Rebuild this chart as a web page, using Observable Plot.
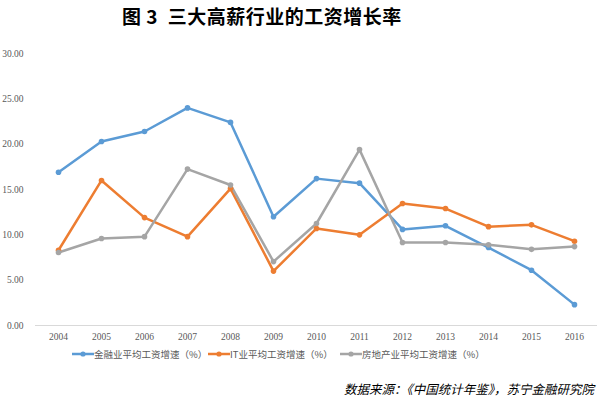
<!DOCTYPE html>
<html><head><meta charset="utf-8">
<script src="https://cdn.jsdelivr.net/npm/d3@7"></script>
<script src="https://cdn.jsdelivr.net/npm/@observablehq/plot@0.6"></script>
<style>
body{margin:0;background:#fff;width:602px;height:399px;position:relative;overflow:hidden;font-family:"Noto Sans CJK SC",sans-serif;}
#title{position:absolute;left:122px;top:2px;font-size:19px;font-weight:bold;color:#000;white-space:pre;letter-spacing:0.5px;}
#chart{position:absolute;left:0;top:35px;}
#legend{position:absolute;top:347px;left:0;width:602px;font-size:9.5px;color:#595959;}
.item{position:absolute;display:flex;align-items:center;white-space:nowrap;}
#source{position:absolute;right:8px;top:379px;font-size:12.5px;font-style:italic;color:#000;white-space:nowrap;}
</style></head>
<body>
<div id="title">图 3  三大高薪行业的工资增长率</div>
<div id="chart"></div>
<div id="legend"></div>
<div id="source">数据来源：《中国统计年鉴》，苏宁金融研究院</div>
<script>
const years = ["2004","2005","2006","2007","2008","2009","2010","2011","2012","2013","2014","2015","2016"];
const seriesNames = ["金融业平均工资增速（%）","IT业平均工资增速（%）","房地产业平均工资增速（%）"];
const finance = [16.9,20.3,21.4,24.0,22.4,12.0,16.2,15.7,10.6,11.0,8.6,6.1,2.3];
const it = [8.3,16.0,11.9,9.8,15.1,6.0,10.7,10.0,13.45,12.9,10.9,11.1,9.3];
const realEstate = [8.05,9.6,9.8,17.25,15.5,7.05,11.25,19.4,9.15,9.15,8.9,8.4,8.7];
const yTicks = [0,5,10,15,20,25,30];
const colors = ["#5B9BD5","#ED7D31","#A5A5A5"];

const allSeries = [finance, it, realEstate];
const data = [];
allSeries.forEach((vals, si) => vals.forEach((v, i) => data.push({year: years[i], value: v, series: seriesNames[si]})));

const chart = Plot.plot({
  width: 602, height: 310,
  marginLeft: 35, marginRight: 5, marginTop: 18, marginBottom: 20,
  style: {fontFamily: "Liberation Serif", fontSize: "9.5px", color: "#595959", background: "transparent"},
  x: {type: "point", domain: years, padding: 0.5, label: null},
  y: {domain: [0, 30], label: null},
  color: {domain: seriesNames, range: colors},
  marks: [
    Plot.ruleY([0], {stroke: "#d9d9d9", strokeWidth: 1}),
    Plot.axisY({ticks: yTicks, tickFormat: d => d.toFixed(2), tickSize: 0, tickPadding: 12, label: null}),
    Plot.axisX({tickSize: 0, tickPadding: 8, label: null}),
    Plot.line(data, {x: "year", y: "value", z: "series", stroke: "series", strokeWidth: 2.5, strokeLinejoin: "round"}),
    Plot.dot(data, {x: "year", y: "value", fill: "series", r: 2.8})
  ]
});
document.getElementById("chart").appendChild(chart);

const legendPos = [72, 208, 340];
const legend = document.getElementById("legend");
seriesNames.forEach((name, i) => {
  const div = document.createElement("div");
  div.className = "item";
  div.style.left = legendPos[i] + "px";
  div.innerHTML = `<svg width="22" height="10"><line x1="0" y1="5" x2="22" y2="5" stroke="${colors[i]}" stroke-width="2.5"/><circle cx="11" cy="5" r="2.6" fill="${colors[i]}"/></svg><span>${name}</span>`;
  legend.appendChild(div);
});
</script>
</body></html>
